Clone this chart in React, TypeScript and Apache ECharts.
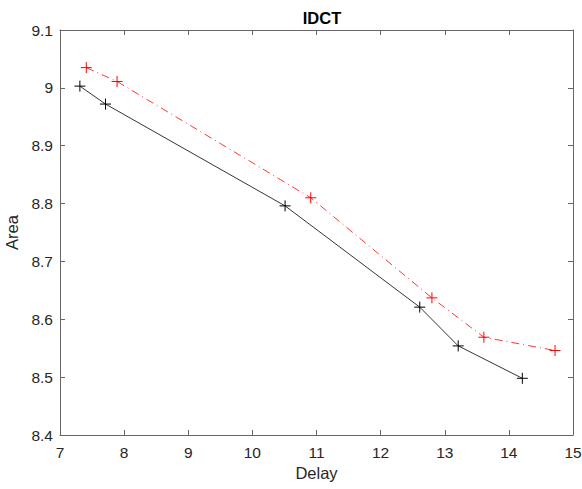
import React, { useEffect, useRef } from "react";
import * as echarts from "echarts";

const blackX = [7.31, 7.71, 10.51, 12.61, 13.21, 14.21];
const blackY = [9.003, 8.972, 8.796, 8.621, 8.554, 8.498];
const redX = [7.41, 7.89, 10.91, 12.8, 13.61, 14.72];
const redY = [9.035, 9.011, 8.81, 8.637, 8.569, 8.546];

const xTicks = { min: 7, max: 15, interval: 1 };
const yTicks = { min: 8.4, max: 9.1, interval: 0.1 };

const plus = "path://M0,-5 L0,5 M-5,0 L5,0";

export default function App() {
  const ref = useRef<HTMLDivElement>(null);
  useEffect(() => {
    const chart = echarts.init(ref.current!, null, { renderer: "svg" });
    const font = "Arial, 'Liberation Sans', sans-serif";
    const axisColor = "#666";
    const labelColor = "#262626";
    const baseX = {
      type: "value",
      min: xTicks.min,
      max: xTicks.max,
      interval: xTicks.interval,
      splitLine: { show: false },
      axisLine: { lineStyle: { color: axisColor, width: 1 } },
      axisTick: { inside: true, length: 5, lineStyle: { color: axisColor } },
    };
    const baseY = {
      type: "value",
      min: yTicks.min,
      max: yTicks.max,
      interval: yTicks.interval,
      splitLine: { show: false },
      axisLine: { lineStyle: { color: axisColor, width: 1 } },
      axisTick: { inside: true, length: 5, lineStyle: { color: axisColor } },
    };
    chart.setOption({
      animation: false,
      backgroundColor: "#fff",
      title: {
        text: "IDCT",
        left: 317,
        top: 4,
        textAlign: "center",
        textStyle: { fontFamily: font, fontSize: 16.5, fontWeight: "bold", color: "#000" },
      },
      grid: { left: 60, right: 9, top: 30, bottom: 54, outerBoundsMode: "none", containLabel: false },
      xAxis: [
        {
          ...baseX,
          position: "bottom",
          name: "Delay",
          nameLocation: "middle",
          nameGap: 29,
          nameTextStyle: { fontFamily: font, fontSize: 16.5, color: labelColor },
          axisLabel: { fontFamily: font, fontSize: 15.5, color: labelColor, margin: 9 },
        },
        { ...baseX, position: "top", axisLabel: { show: false } },
      ],
      yAxis: [
        {
          ...baseY,
          position: "left",
          name: "Area",
          nameLocation: "middle",
          nameGap: 34,
          nameTextStyle: { fontFamily: font, fontSize: 16.5, color: labelColor },
          axisLabel: { fontFamily: font, fontSize: 15.5, color: labelColor, margin: 7 },
        },
        { ...baseY, position: "right", axisLabel: { show: false } },
      ],
      series: [
        {
          type: "line",
          data: blackX.map((x, i) => [x, blackY[i]]),
          lineStyle: { color: "#000", width: 0.8 },
          symbol: plus,
          symbolSize: 11,
          itemStyle: { color: "none", borderColor: "#000", borderWidth: 1 },
          z: 3,
        },
        {
          type: "line",
          data: redX.map((x, i) => [x, redY[i]]),
          lineStyle: { color: "#ff0000", width: 0.8, type: [8, 4, 1, 4] },
          symbol: plus,
          symbolSize: 11,
          itemStyle: { color: "none", borderColor: "#ff0000", borderWidth: 1 },
          z: 3,
        },
      ],
    });
    return () => chart.dispose();
  }, []);
  return <div ref={ref} style={{ width: 582, height: 489, position: "absolute", left: 0, top: 0 }} />;
}
